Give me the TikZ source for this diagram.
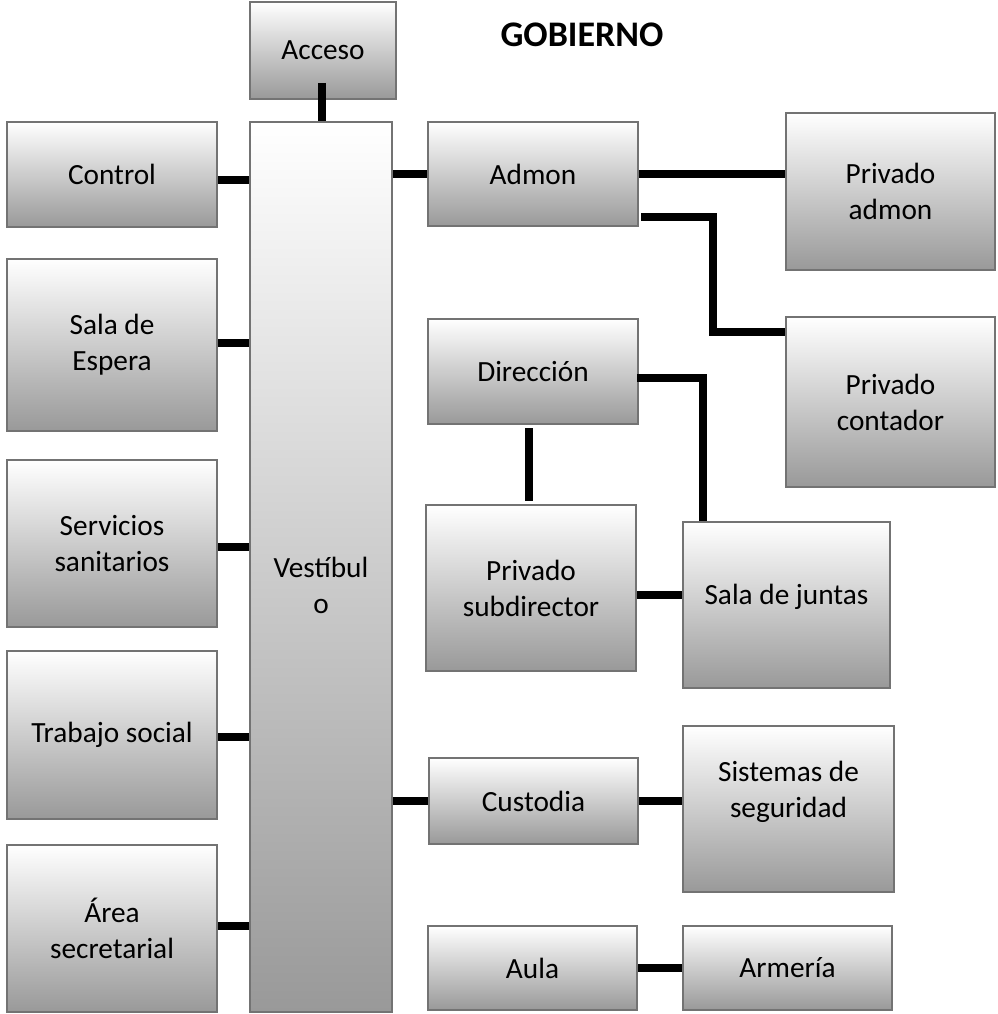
\documentclass[tikz,border=0pt]{standalone}
\usepackage{fontspec}
\setmainfont{Carlito}
\usetikzlibrary{calc}
\tikzset{
  box/.style={draw=black!55, line width=2pt, top color=white, bottom color=black!40,
    shading angle=0, inner sep=2pt, align=center, font=\fontsize{29.3}{36}\selectfont},
  boxtext/.style={align=center, inner sep=0pt, font=\fontsize{29.3}{36}\selectfont},
  link/.style={draw=black, line width=7.5pt, line join=miter, line cap=butt},
  heading/.style={font=\fontsize{36}{40}\selectfont\bfseries, inner sep=0pt}
}
\newcommand{\room}[6]{% name, center x, center y, width, height, text
  \node[box, minimum width=#4pt, minimum height=#5pt] (#1) at (#2,#3) {#6};}
\begin{document}
\begin{tikzpicture}[x=1pt,y=-1pt]
\useasboundingbox (0,0) rectangle (997,1014);

\node[heading] (title) at (582,35) {GOBIERNO};

% central hall and entrance
\room{acceso}{323}{50.5}{146}{97}{Acceso}
\room{vest}{321}{567}{142}{890}{}
\node[boxtext] (vesttext) at (321,585) {Vestíbul\\o};

% left column
\room{control}{112}{174.5}{210}{105}{Control}
\room{sala}{112}{345}{210}{172}{Sala de\\Espera}
\room{servicios}{112}{543.5}{210}{167}{Servicios\\sanitarios}
\room{trabajo}{112}{735}{210}{168}{Trabajo social}
\room{area}{112}{928.5}{210}{167}{Área\\secretarial}

% right side
\room{admon}{533}{174}{210}{104}{Admon}
\room{padmon}{890.5}{191.5}{209}{157}{Privado\\admon}
\room{pcontador}{890.5}{402}{209}{170}{Privado\\contador}
\room{direccion}{533}{371.5}{210}{105}{Dirección}
\room{psub}{531}{588}{210}{166}{Privado\\subdirector}
\room{juntas}{786.5}{605}{207}{166}{}
\node[boxtext] (juntastext) at (786.5,597) {Sala de juntas};
\room{custodia}{533.5}{801}{209}{86}{Custodia}
\room{sistemas}{788.5}{809}{211}{166}{}
\node[boxtext] (sistemastext) at (788.5,792) {Sistemas de\\seguridad};
\room{aula}{532.5}{968}{209}{84}{Aula}
\room{armeria}{787.5}{968}{209}{84}{Armería}

% connectors
\coordinate (accesoTap) at ([xshift=-1pt,yshift=17pt]acceso.south);
\draw[link] (accesoTap) -- (accesoTap |- vest.north);
\draw[link] ([yshift=-5.5pt]control.east) -- ([yshift=-5.5pt]control.east -| vest.west);
\draw[link] ([yshift=2pt]sala.east) -- ([yshift=2pt]sala.east -| vest.west);
\draw[link] ([yshift=-3.5pt]servicios.east) -- ([yshift=-3.5pt]servicios.east -| vest.west);
\draw[link] ([yshift=-2pt]trabajo.east) -- ([yshift=-2pt]trabajo.east -| vest.west);
\draw[link] ([yshift=2.5pt]area.east) -- ([yshift=2.5pt]area.east -| vest.west);

\draw[link] (admon.west) -- (admon.west -| vest.east);
\draw[link] (admon.east) -- (admon.east -| padmon.west);
\coordinate (bendA) at (713,332);
\draw[link] ([xshift=2pt,yshift=-43pt]admon.east) -| (bendA) -- (bendA -| pcontador.west);

\coordinate (bendB) at (703,378);
\draw[link] ([xshift=-2pt,yshift=-6.5pt]direccion.east) -- (bendB) -- (bendB |- juntas.north);
\draw[link] ([xshift=-4pt,yshift=-3pt]direccion.south) -- ([xshift=-4pt,yshift=3pt]direccion.south |- psub.north);
\draw[link] ([yshift=-7pt]psub.east) -- ([yshift=-7pt]psub.east -| juntas.west);

\draw[link] (custodia.west) -- (custodia.west -| vest.east);
\draw[link] (custodia.east) -- (custodia.east -| sistemas.west);
\draw[link] (aula.east) -- (armeria.west);
\end{tikzpicture}
\end{document}
